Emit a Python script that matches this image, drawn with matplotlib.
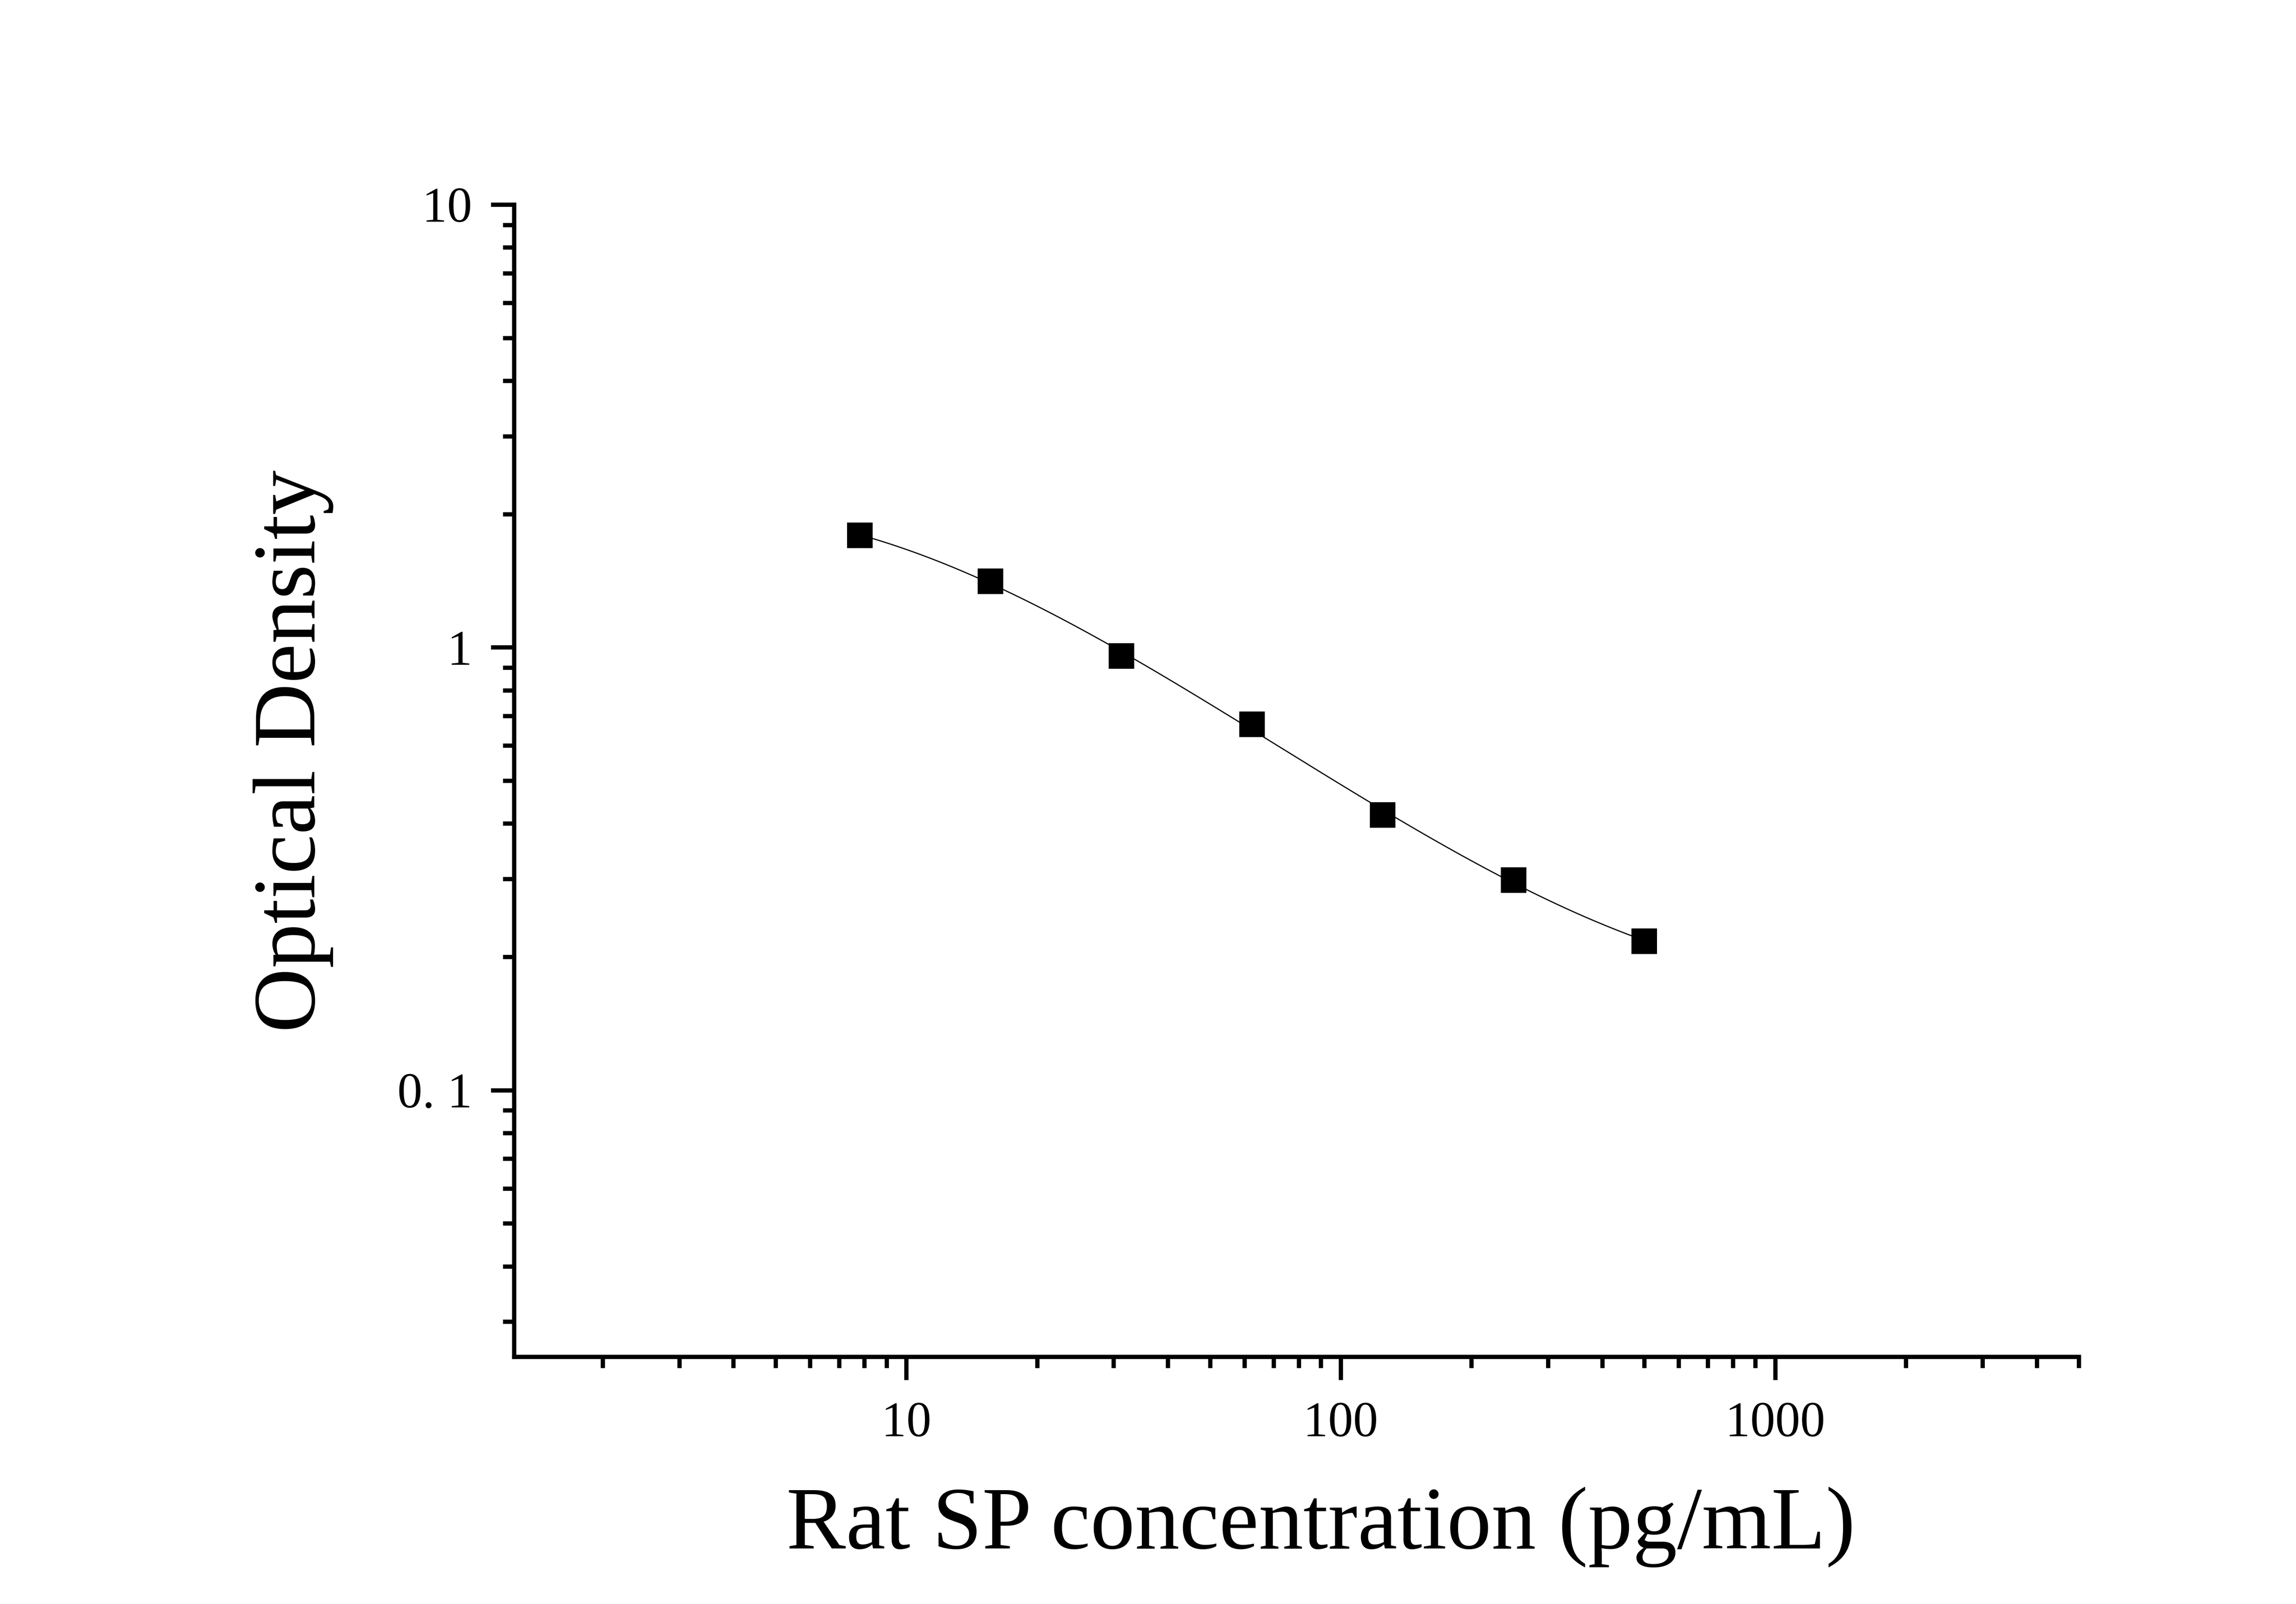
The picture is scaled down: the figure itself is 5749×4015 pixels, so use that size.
import numpy as np
import matplotlib
matplotlib.use("Agg")
import matplotlib.pyplot as plt
from matplotlib.ticker import LogLocator, NullFormatter

# ---- data ----
concentration = [7.8125, 15.625, 31.25, 62.5, 125, 250, 500]
optical_density = [1.79, 1.41, 0.956, 0.670, 0.418, 0.298, 0.217]

x_ticks = [10, 100, 1000]
x_tick_labels = ["10", "100", "1000"]
y_ticks = [0.1, 1, 10]
y_tick_labels = ["0. 1", "1", "10"]

x_label = "Rat SP concentration (pg/mL)"
y_label = "Optical Density"

plt.rcParams['font.family'] = ['Liberation Serif', 'DejaVu Serif']

W, H, DPI = 5749, 4015, 600
fig = plt.figure(figsize=(W / DPI, H / DPI), dpi=DPI)
L, R, T, B = 1287, 5205, 512, 3396
ax = fig.add_axes([L / W, 1 - B / H, (R - L) / W, (B - T) / H])

ax.set_xscale('log')
ax.set_yscale('log')
ax.set_xlim(1.25, 5000)
ax.set_ylim(0.025, 10)

# fitted smooth curve (cubic in log-log space, from the data)
lx = np.log10(concentration)
ly = np.log10(optical_density)
coef = np.polyfit(lx, ly, 3)
xs = np.linspace(lx.min(), lx.max(), 400)
ax.plot(10 ** xs, 10 ** np.polyval(coef, xs), color='black', lw=0.35,
        solid_capstyle='butt', zorder=2)

ax.plot(concentration, optical_density, linestyle='none', marker='s',
        markersize=7.7, markeredgewidth=0, color='black', zorder=3)

for s in ['top', 'right']:
    ax.spines[s].set_visible(False)
for s in ['left', 'bottom']:
    ax.spines[s].set_linewidth(1.28)

ax.set_xticks(x_ticks, labels=x_tick_labels)
ax.set_yticks(y_ticks, labels=y_tick_labels)
ax.xaxis.set_minor_locator(LogLocator(base=10, subs=np.arange(2, 10), numticks=100))
ax.yaxis.set_minor_locator(LogLocator(base=10, subs=np.arange(2, 10), numticks=100))
ax.xaxis.set_minor_formatter(NullFormatter())
ax.yaxis.set_minor_formatter(NullFormatter())

ax.tick_params(which='major', length=6.96, width=1.28, labelsize=15, direction='out')
ax.tick_params(which='minor', length=3.36, width=1.28, direction='out')
ax.tick_params(axis='y', which='major', pad=5.6)
ax.tick_params(axis='x', which='major', pad=6.5)

ax.set_xlabel(x_label, fontsize=26.8)
ax.set_ylabel(y_label, fontsize=26.8)
ax.xaxis.set_label_coords(0.5156, -0.113)
ax.yaxis.set_label_coords(-0.1151, 0.5257)

fig.savefig("out.png", dpi=DPI, facecolor='white')
